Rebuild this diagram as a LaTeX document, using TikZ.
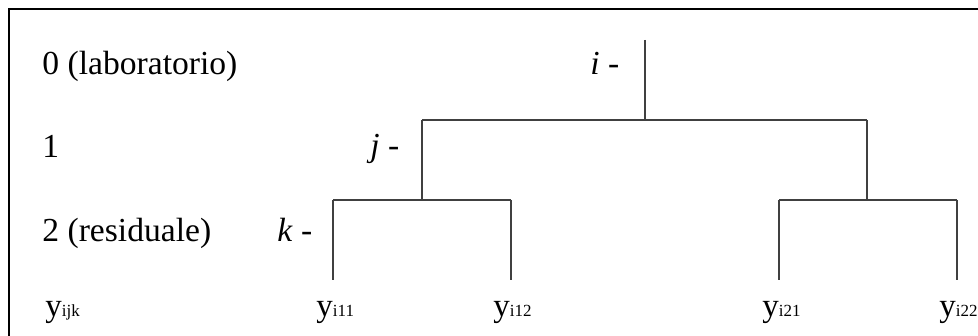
\documentclass[tikz,border=0pt]{standalone}
\usepackage{fontspec}
\setmainfont{LiberationSerif}[
  Extension=.ttf,
  UprightFont=*-Regular,
  ItalicFont=*-Italic,
  BoldFont=*-Bold,
  BoldItalicFont=*-BoldItalic]
\usepackage{tikz}

\tikzset{
  lev/.style={anchor=base west, inner sep=0pt, font=\fontsize{16.8}{20}\selectfont},
  br/.style={line width=0.75pt, black!75},
}
\newcommand{\yobs}[1]{{\fontsize{16.5}{20}\selectfont y}{\fontsize{8.5}{10}\selectfont #1}}

\begin{document}
\begin{tikzpicture}[x=0.5pt, y=-0.5pt]
  \useasboundingbox (0,0) rectangle (978,336);
  \draw[line width=1pt] (9,345) -- (9,9) -- (985,9);

  % levels on the left
  \node[lev] (L0) at (42,75) {0 (laboratorio)};
  \node[lev] (L1) at (42,158) {1};
  \node[lev] (L2) at (42,242) {2 (residuale)};
  \node[lev] (Y) at (45,316) {\yobs{ijk}};

  \node[lev] (I) at (590,75) {\textit{i} -};
  \node[lev] (J) at (370,157) {\textit{j} -};
  \node[lev] (K) at (277,242) {\textit{k} -};

  % tree
  \coordinate (r) at (645,40);
  \coordinate (a) at (645,120);
  \coordinate (a1) at (422,120);
  \coordinate (a2) at (867,120);
  \coordinate (b1) at (422,200);
  \coordinate (b2) at (867,200);
  \coordinate (c11) at (333,200);
  \coordinate (c12) at (511,200);
  \coordinate (c21) at (779,200);
  \coordinate (c22) at (957,200);
  \coordinate (d11) at (333,280);
  \coordinate (d12) at (511,280);
  \coordinate (d21) at (779,280);
  \coordinate (d22) at (957,280);

  \draw[br] (r) -- (a);
  \draw[br] (a1) -- (a2);
  \draw[br] (a1) -- (b1);
  \draw[br] (a2) -- (b2);
  \draw[br] (c11) -- (c12);
  \draw[br] (c21) -- (c22);
  \draw[br] (c11) -- (d11);
  \draw[br] (c12) -- (d12);
  \draw[br] (c21) -- (d21);
  \draw[br] (c22) -- (d22);

  % observations
  \node[lev] (Y11) at (316,316) {\yobs{i11}};
  \node[lev] (Y12) at (493,316) {\yobs{i12}};
  \node[lev] (Y21) at (762,316) {\yobs{i21}};
  \node[lev] (Y22) at (939,316) {\yobs{i22}};
\end{tikzpicture}
\end{document}
